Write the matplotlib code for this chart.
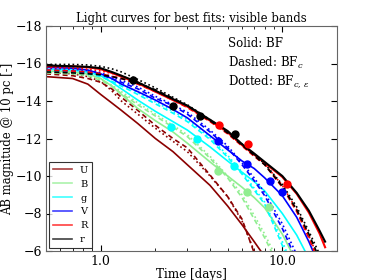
import numpy as np
import matplotlib
matplotlib.use("Agg")
import matplotlib.pyplot as plt

plt.rcParams['font.family'] = ['DejaVu Serif']
plt.rcParams['mathtext.fontset'] = 'dejavuserif'

# time grid [days]
T = [0.5, 0.7, 0.85, 1.0, 1.15, 1.3, 1.6, 2.0, 2.5, 3.0, 4.0, 5.0, 6.0, 7.0, 8.0, 10.0, 12.0, 14.0, 16.0, 17.2]
nan = np.nan

bands = ['U', 'B', 'g', 'V', 'R', 'r']
colors = ['darkred', 'lightgreen', 'cyan', 'blue', 'red', 'black']

# Solid: BF
U_bf = [-15.3, -15.2, -14.9, -14.35, -13.9, -13.5, -12.8, -12.0, -11.3, -10.6, -9.5, -8.4, -7.4, -6.5, -5.7, nan, nan, nan, nan, nan]
B_bf = [-15.6, -15.55, -15.45, -15.2, -14.8, -14.35, -13.6, -12.95, -12.35, -11.75, -10.75, -10.0, -9.4, -8.85, -8.3, -6.9, -5.4, nan, nan, nan]
g_bf = [-15.7, -15.65, -15.55, -15.35, -15.0, -14.65, -14.05, -13.45, -12.9, -12.45, -11.55, -10.8, -10.2, -9.7, -9.2, -8.0, -6.85, -5.6, nan, nan]
V_bf = [-15.8, -15.75, -15.65, -15.45, -15.2, -14.9, -14.5, -14.05, -13.55, -13.1, -12.15, -11.4, -10.8, -10.4, -9.9, -8.95, -7.8, -6.5, -5.2, nan]
R_bf = [-15.85, -15.85, -15.8, -15.7, -15.5, -15.3, -14.95, -14.5, -14.05, -13.7, -12.95, -12.35, -11.65, -11.15, -10.7, -9.95, -9.05, -8.05, -6.95, -6.2]
r_bf = [-15.9, -15.85, -15.82, -15.75, -15.55, -15.35, -15.0, -14.55, -14.1, -13.75, -13.0, -12.4, -11.7, -11.2, -10.75, -10.0, -9.1, -8.15, -7.1, -6.5]

# Dashed: BF_c
U_c = [-15.45, -15.35, -15.2, -15.0, -14.65, -14.2, -13.5, -12.7, -12.0, -11.5, -10.05, -8.9, -7.7, -5.9, nan, nan, nan, nan, nan, nan]
B_c = [-15.5, -15.45, -15.35, -15.1, -14.8, -14.4, -13.8, -13.2, -12.6, -12.1, -10.95, -9.9, -8.85, -7.7, -6.7, -4.8, nan, nan, nan, nan]
g_c = [-15.6, -15.55, -15.45, -15.3, -15.05, -14.8, -14.35, -13.85, -13.35, -12.9, -11.95, -11.0, -10.1, -9.25, -8.5, -6.3, -4.5, nan, nan, nan]
V_c = [-15.65, -15.6, -15.52, -15.4, -15.2, -15.0, -14.65, -14.15, -13.75, -13.3, -12.35, -11.5, -10.6, -9.75, -8.95, -7.2, -5.5, nan, nan, nan]
R_c = [-15.65, -15.6, -15.55, -15.45, -15.32, -15.2, -14.9, -14.5, -14.05, -13.65, -12.9, -12.25, -11.6, -11.05, -10.6, -9.4, -8.1, -6.7, -5.3, nan]
r_c = [-15.55, -15.5, -15.45, -15.4, -15.3, -15.2, -14.95, -14.6, -14.15, -13.75, -12.95, -12.3, -11.65, -11.1, -10.6, -9.45, -8.2, -6.9, -5.6, nan]

# Dotted: BF_c,eps
U_ce = [-15.55, -15.45, -15.3, -15.05, -14.55, -14.0, -13.3, -12.55, -11.85, -11.3, -10.0, -8.9, -7.6, -6.0, -4.5, nan, nan, nan, nan, nan]
B_ce = [-15.55, -15.5, -15.4, -15.15, -14.85, -14.5, -13.9, -13.3, -12.7, -12.2, -11.05, -10.0, -9.0, -7.9, -6.9, -5.0, nan, nan, nan, nan]
g_ce = [-15.7, -15.65, -15.55, -15.4, -15.15, -14.9, -14.45, -13.95, -13.45, -13.0, -12.05, -11.1, -10.2, -9.35, -8.6, -6.5, -4.7, nan, nan, nan]
V_ce = [-15.75, -15.7, -15.62, -15.5, -15.3, -15.1, -14.75, -14.25, -13.8, -13.4, -12.45, -11.6, -10.7, -9.9, -9.1, -7.45, -5.8, nan, nan, nan]
R_ce = [-15.8, -15.75, -15.7, -15.6, -15.48, -15.35, -15.0, -14.55, -14.1, -13.7, -12.95, -12.3, -11.65, -11.1, -10.65, -9.5, -8.2, -6.8, -5.5, nan]
r_ce = [-15.95, -15.95, -15.92, -15.85, -15.72, -15.55, -15.15, -14.7, -14.2, -13.8, -13.0, -12.35, -11.7, -11.15, -10.65, -9.55, -8.35, -7.05, -5.85, nan]

# observed points
B_obs_t = [4.45, 6.4, 8.4]
B_obs_m = [-10.27, -9.15, -8.35]
g_obs_t = [2.45, 3.4, 5.4]
g_obs_m = [-12.63, -11.96, -10.55]
V_obs_t = [4.45, 6.4, 8.5, 10.0]
V_obs_m = [-11.85, -10.65, -9.75, -9.16]
R_obs_t = [4.5, 6.5, 10.6]
R_obs_m = [-12.7, -11.7, -9.6]
r_obs_t = [1.5, 2.5, 3.5, 5.5]
r_obs_m = [-15.1, -13.75, -13.2, -12.25]

bf = [U_bf, B_bf, g_bf, V_bf, R_bf, r_bf]
bfc = [U_c, B_c, g_c, V_c, R_c, r_c]
bfce = [U_ce, B_ce, g_ce, V_ce, R_ce, r_ce]
obs = {'B': (B_obs_t, B_obs_m), 'g': (g_obs_t, g_obs_m), 'V': (V_obs_t, V_obs_m),
       'R': (R_obs_t, R_obs_m), 'r': (r_obs_t, r_obs_m)}

fig = plt.figure(figsize=(3.74, 2.8), dpi=100)
ax = fig.add_axes([46/374, 1-251/280, 291/374, 225/280])

for b, c, s, d, e in zip(bands, colors, bf, bfc, bfce):
    lw = 1.5 if b in ('R', 'r') else 1.2
    ax.plot(T, s, '-', color=c, lw=lw)
    ax.plot(T, d, '--', color=c, lw=1.2, dashes=(3, 2))
    ax.plot(T, e, ':', color=c, lw=1.2)
    if b in obs:
        ax.plot(obs[b][0], obs[b][1], 'o', color=c, ms=5, mec=c, zorder=5)

ax.set_xscale('log')
ax.set_xlim(0.5, 20)
ax.set_ylim(-6, -18)
ax.set_yticks([-18, -16, -14, -12, -10, -8, -6])
ax.set_xticks([1, 10])
ax.set_xticklabels(['1.0', '10.0'])
ax.tick_params(which='both', direction='in', top=True, right=True, labelsize=9, pad=3)
ax.tick_params(which='major', length=4)
ax.tick_params(which='minor', length=2)
for sp in ax.spines.values():
    sp.set_color('#666666')

ax.set_title('Light curves for best fits: visible bands', fontsize=8.4, pad=3)
ax.set_xlabel('Time [days]', fontsize=8.6, labelpad=0)
ax.set_ylabel('AB magnitude @ 10 pc [-]', fontsize=8.4, labelpad=1)

ax.text(0.625, 0.924, 'Solid: BF', transform=ax.transAxes, fontsize=8.5, va='center')
ax.text(0.625, 0.836, r'Dashed: BF$_c$', transform=ax.transAxes, fontsize=8.5, va='center')
ax.text(0.625, 0.756, r'Dotted: BF$_{c,\,\epsilon}$', transform=ax.transAxes, fontsize=8.5, va='center')

leg = ax.legend(handles=[plt.Line2D([], [], color=c, lw=1.2, alpha=0.75) for c in colors],
                labels=bands, loc='lower left', fontsize=7, frameon=True, fancybox=False,
                edgecolor='black', handlelength=2.0, borderaxespad=0.3, labelspacing=0.5,
                borderpad=0.4)
leg.get_frame().set_linewidth(0.8)

fig.savefig('out.png', dpi=100)
